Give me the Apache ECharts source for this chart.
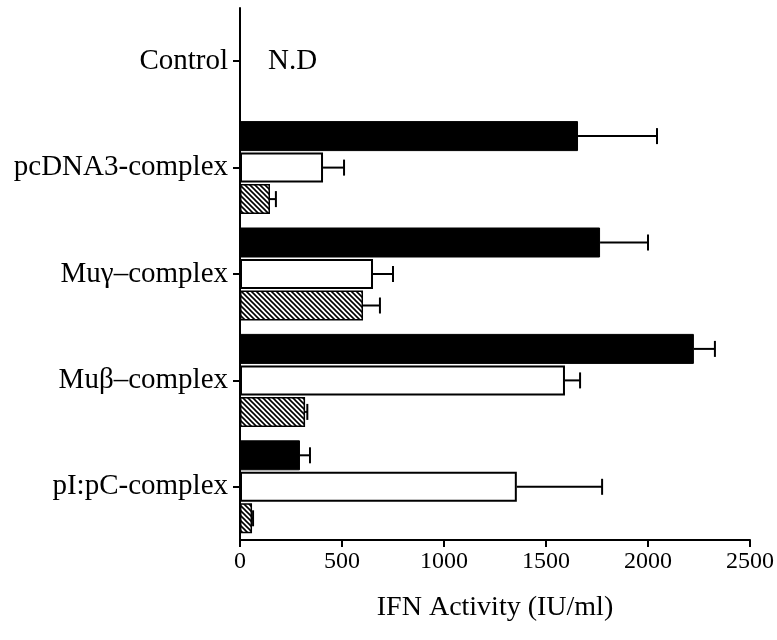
<!DOCTYPE html>
<html>
<head>
<meta charset="utf-8">
<script src="https://cdn.jsdelivr.net/npm/echarts@6/dist/echarts.min.js"></script>
<style>html,body{margin:0;padding:0;background:#fff}#c{width:777px;height:640px}</style>
</head>
<body>
<div id="c"></div>
<script>
// Data
const categories = ['Control', 'pcDNA3-complex', 'Mu\u03b3\u2013complex', 'Mu\u03b2\u2013complex', 'pI:pC-complex'];
const blackValues   = [null, 1657, 1765, 2225, 294];
const blackErrors   = [null, 2044, 2000, 2328, 343];
const whiteValues   = [null, 407, 652, 1593, 1357];
const whiteErrors   = [null, 510, 750, 1667, 1775];
const hatchValues   = [null, 147, 603, 319, 59];
const hatchErrors   = [null, 176, 686, 330, 64];
const xTicks = [0, 500, 1000, 1500, 2000, 2500];
const notDetected = [{ category: 'Control', text: 'N.D' }];

// Hatch pattern
const tile = document.createElement('canvas');
tile.width = 5; tile.height = 5;
const tx = tile.getContext('2d');
tx.fillStyle = '#fff'; tx.fillRect(0, 0, 5, 5);
tx.strokeStyle = '#000'; tx.lineWidth = 1.6;
tx.beginPath();
tx.moveTo(-1, -1); tx.lineTo(6, 6);
tx.moveTo(-1, 4); tx.lineTo(1, 6);
tx.moveTo(4, -1); tx.lineTo(6, 1);
tx.stroke();

const BW = 30, GAP = 1.5;
const offsets = [-(BW + GAP), 0, BW + GAP];

function errSeries(vals, errs, idx) {
  const d = [];
  for (let i = 0; i < categories.length; i++) {
    if (vals[i] != null) d.push([vals[i], i, errs[i]]);
  }
  return {
    type: 'custom',
    data: d,
    z: 5,
    renderItem: function (params, api) {
      const p0 = api.coord([api.value(0), api.value(1)]);
      const p1 = api.coord([api.value(2), api.value(1)]);
      const y = p0[1] + offsets[idx];
      return {
        type: 'group',
        children: [
          { type: 'line', shape: { x1: p0[0], y1: y, x2: p1[0], y2: y }, style: { stroke: '#000', lineWidth: 2 } },
          { type: 'line', shape: { x1: p1[0], y1: y - 8, x2: p1[0], y2: y + 8 }, style: { stroke: '#000', lineWidth: 2 } }
        ]
      };
    }
  };
}

const chart = echarts.init(document.getElementById('c'), null, { renderer: 'canvas' });
const font = 'Liberation Serif, Times New Roman, serif';
chart.setOption({
  animation: false,
  textStyle: { fontFamily: font, color: '#000' },
  grid: { left: 240, right: 27, top: 8, bottom: 100, containLabel: false },
  xAxis: {
    type: 'value', min: 0, max: 2500, interval: 500,
    axisLine: { show: true, lineStyle: { color: '#000', width: 2 } },
    axisTick: { show: true, length: 7, lineStyle: { color: '#000', width: 2 } },
    splitLine: { show: false },
    axisLabel: { fontFamily: font, fontSize: 24, color: '#000', margin: 10,
      formatter: function (v) { return xTicks.indexOf(v) >= 0 ? String(v) : ''; } },
    name: 'IFN Activity (IU/ml)', nameLocation: 'middle', nameGap: 54,
    nameTextStyle: { fontFamily: font, fontSize: 28, color: '#000' }
  },
  yAxis: {
    type: 'category', data: categories, inverse: true,
    axisLine: { show: true, lineStyle: { color: '#000', width: 2 } },
    axisTick: { show: true, alignWithLabel: true, length: 7, lineStyle: { color: '#000', width: 2 } },
    axisLabel: { fontFamily: font, fontSize: 29, color: '#000', margin: 12 }
  },
  series: [
    { type: 'bar', data: blackValues, barWidth: BW, barGap: '5%',
      itemStyle: { color: '#000', borderColor: '#000', borderWidth: 1 } },
    { type: 'bar', data: whiteValues, barWidth: BW, barGap: '5%',
      itemStyle: { color: '#fff', borderColor: '#000', borderWidth: 2 } },
    { type: 'bar', data: hatchValues, barWidth: BW, barGap: '5%',
      itemStyle: { color: { image: tile, repeat: 'repeat' }, borderColor: '#000', borderWidth: 1.5 } },
    errSeries(blackValues, blackErrors, 0),
    errSeries(whiteValues, whiteErrors, 1),
    errSeries(hatchValues, hatchErrors, 2),
    { type: 'custom', silent: true,
      data: notDetected.map(function (n) { return [0, categories.indexOf(n.category), n.text]; }),
      renderItem: function (params, api) {
        const p = api.coord([api.value(0), api.value(1)]);
        return { type: 'text', x: p[0] + 28, y: p[1],
          style: { text: notDetected[params.dataIndex].text, fill: '#000', font: '29px ' + font,
            verticalAlign: 'middle', align: 'left' } };
      } }
  ]
});
</script>
</body>
</html>
